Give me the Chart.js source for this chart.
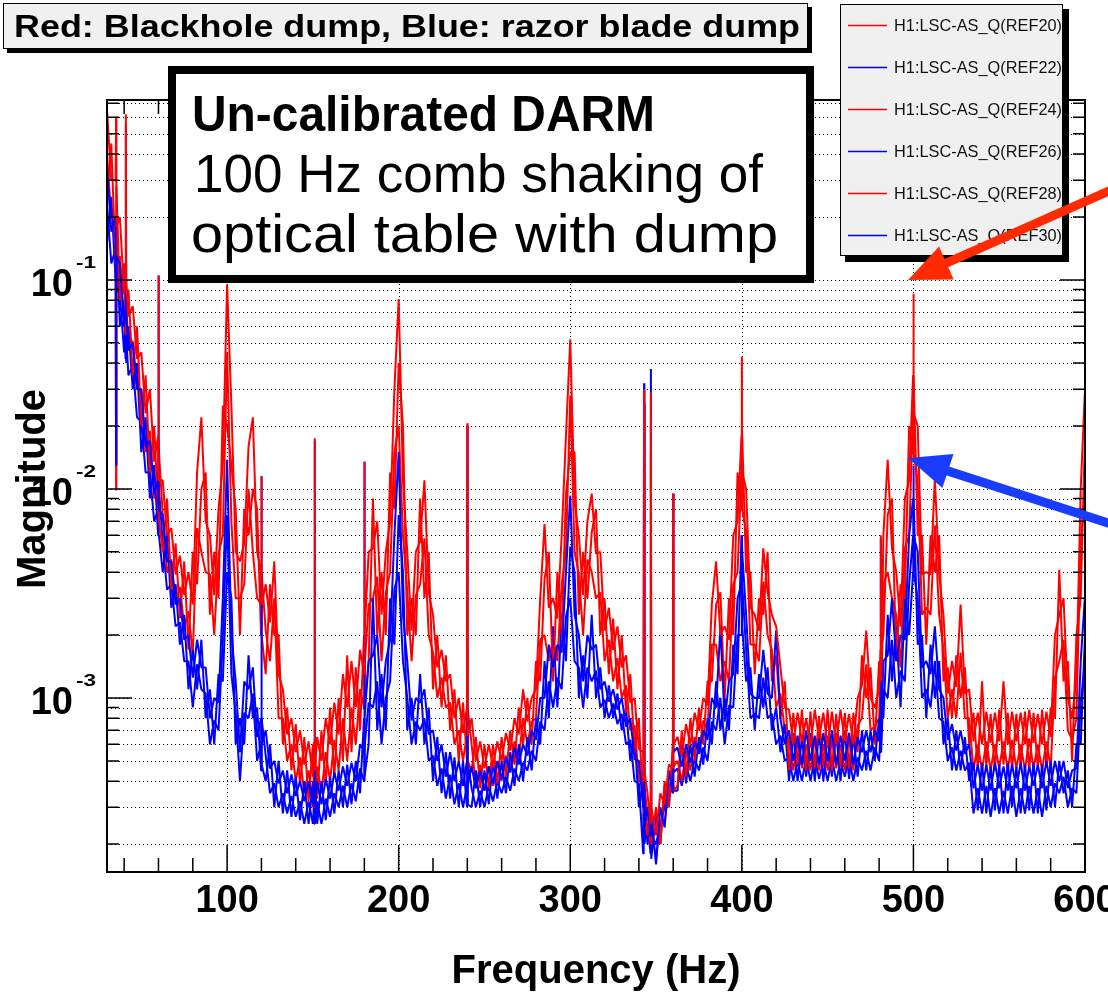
<!DOCTYPE html>
<html>
<head>
<meta charset="utf-8">
<title>Un-calibrated DARM</title>
<script src="https://cdn.jsdelivr.net/npm/chart.js@4.4.1/dist/chart.umd.min.js"></script>
<style>
  html, body { margin: 0; padding: 0; background: #fff; }
  canvas { display: block; }
</style>
</head>
<body>
<canvas id="myChart" width="1108" height="996"></canvas>
<script>
// magnitude values below are in units of 1e-5
const UNIT = 1e-5;

const freq = [
  30, 32.5, 35, 35.3, 35.5, 37.5, 40, 40.8, 41, 41.2, 42.5, 45, 47.5, 50, 52.5, 55, 57.5, 59.8, 60, 60.2,
  62.5, 65, 67.5, 70, 72.5, 75, 77.5, 80, 82.5, 85, 87.5, 90, 92.5, 95, 97.5, 100, 102.5, 105, 107.5, 110, 112.5, 115, 117.5,
  119.8, 120, 120.2, 122.5, 125, 127.5, 130, 132.5, 135, 137.5, 140, 142.5, 145, 147.5, 150,
  150.8, 151, 151.2, 152.5, 155, 157.5, 160, 162.5, 165, 167.5, 170, 172.5, 175, 177.5, 179.8, 180, 180.2,
  182.5, 185, 187.5, 190, 192.5, 195, 197.5, 200, 202.5, 205, 207.5, 210, 212.5, 215, 217.5, 220, 222.5, 225, 227.5, 230, 232.5, 235, 237.5,
  239.8, 240, 240.2, 242.5, 245, 247.5, 250, 252.5, 255, 257.5, 260, 262.5, 265, 267.5, 270, 272.5, 275, 277.5, 280,
  282.5, 285, 287.5, 290, 292.5, 295, 297.5, 300, 302.5, 305, 307.5, 310, 312.5, 315, 317.5, 320, 322.5, 325, 327.5, 330, 332.5, 335, 337.5, 340,
  342.5, 342.8, 343, 343.2, 345, 346.8, 347, 347.2, 350, 352.5, 355, 357.5, 359.8, 360, 360.2,
  362.5, 365, 367.5, 370, 372.5, 375, 377.5, 380, 382.5, 385, 387.5, 390, 392.5, 395, 397.5, 399.8, 400, 400.2,
  402.5, 405, 407.5, 410, 412.5, 415, 417.5, 420, 422.5, 425, 427.5, 430, 432.5, 435, 437.5, 440, 442.5, 445, 447.5, 450, 452.5, 455, 457.5, 460, 462.5,
  465, 467.5, 470, 472.5, 475, 477.5, 480, 480.8, 481, 481.2, 482.5, 485, 487.5, 490, 492.5, 495, 497.5, 499.8, 500, 500.2,
  502.5, 505, 507.5, 510, 512.5, 515, 517.5, 520, 522.5, 525, 527.5, 530, 532.5, 535, 537.5, 540, 542.5, 545, 547.5, 550,
  552.5, 555, 557.5, 560, 562.5, 565, 567.5, 570, 572.5, 575, 577.5, 580, 582.5, 585, 587.5, 590, 592.5, 595, 597.5, 600
];

// red traces (blackhole dump)
const ref20 = [
  65000, 30000, 30000, 60000, 18000, 20000, 8500, 11000, 62000, 10000, 6700, 7500, 4200, 4500, 2300, 3000, 1350, 1800, 10500, 1100,
  1100, 600, 650, 390, 480, 310, 400, 280, 1200, 2200, 700, 600, 310, 800, 1300, 9500, 2500, 500, 450, 550, 1600, 2200, 500,
  400, 1150, 280, 350, 230, 450, 130, 110, 67, 80, 55, 70, 48, 62, 42,
  62, 1750, 45, 65, 50, 80, 60, 95, 67, 130, 90, 150, 90, 170, 130, 1350, 200,
  500, 520, 700, 250, 500, 700, 3000, 8100, 1100, 500, 210, 500, 560, 1100, 320, 250, 140, 170, 120, 130, 80, 100, 68,
  90, 2060, 66, 80, 50, 62, 46, 60, 47, 62, 50, 68, 56, 80, 67, 110, 77, 100, 110,
  300, 680, 270, 300, 240, 600, 1800, 5200, 870, 600, 310, 700, 950, 490, 500, 210, 270, 170, 220, 140, 160, 95, 100, 57,
  55, 40, 3000, 45, 35, 25, 2900, 30, 22, 35, 31, 48, 46, 950, 60,
  65, 53, 75, 60, 85, 70, 100, 92, 280, 450, 200, 220, 190, 600, 700, 1800, 4300, 1200,
  1000, 270, 250, 210, 520, 320, 250, 220, 140, 90, 88, 60, 85, 62, 80, 58, 88, 64, 85, 58, 86, 60, 88, 62, 84,
  60, 100, 115, 210, 100, 90, 110, 170, 600, 120, 600, 1380, 520, 400, 220, 900, 1100, 3500, 8600, 2300,
  2000, 390, 400, 390, 1120, 390, 250, 105, 150, 113, 280, 105, 110, 62, 85, 60, 86, 61, 85, 62,
  120, 60, 86, 62, 85, 60, 88, 61, 84, 60, 86, 65, 200, 250, 300, 100, 80, 125, 1000, 3000
];
const ref24 = [
  25000, 45000, 12000, 990, 28000, 8000, 12000, 5500, 9000, 5500, 9000, 3500, 6000, 2000, 3500, 1200, 2000, 800, 1700, 750,
  500, 900, 330, 550, 240, 450, 170, 500, 350, 1000, 1200, 250, 500, 300, 2500, 2000, 1300, 800, 200, 800, 600, 1000, 800,
  200, 350, 200, 130, 350, 200, 200, 60, 90, 45, 75, 38, 65, 32, 60,
  30, 45, 62, 33, 70, 38, 90, 42, 100, 50, 160, 55, 140, 70, 200, 150, 90,
  150, 900, 200, 400, 200, 1200, 800, 4000, 2000, 200, 300, 200, 900, 300, 500, 110, 200, 90, 160, 70, 110, 50, 95,
  50, 85, 50, 45, 65, 37, 60, 37, 60, 39, 65, 42, 70, 48, 90, 60, 100, 60, 150,
  120, 370, 500, 120, 400, 200, 950, 1500, 1500, 250, 500, 300, 620, 800, 200, 300, 130, 240, 110, 200, 85, 130, 55, 80,
  30, 50, 2500, 28, 22, 32, 1500, 20, 30, 20, 40, 30, 60, 45, 36,
  38, 70, 42, 80, 50, 90, 60, 120, 120, 280, 320, 100, 300, 200, 1200, 800, 1700, 1800,
  400, 400, 130, 300, 250, 500, 120, 160, 80, 120, 45, 85, 48, 88, 45, 86, 46, 82, 47, 88, 45, 84, 47, 85, 46,
  85, 55, 160, 100, 140, 60, 150, 90, 130, 170, 200, 750, 900, 150, 350, 300, 2000, 1500, 3000, 3500,
  600, 600, 180, 600, 400, 600, 120, 140, 80, 160, 100, 140, 60, 85, 46, 120, 47, 84, 45, 88,
  48, 85, 45, 84, 47, 86, 45, 85, 46, 88, 47, 90, 80, 410, 120, 150, 50, 200, 300, 1800
];
const ref28 = [
  40000, 20000, 19000, 17000, 11000, 13000, 6000, 8000, 5500, 7500, 5000, 5100, 3000, 3000, 1500, 1900, 900, 1200, 850, 1600,
  750, 400, 460, 280, 340, 220, 260, 160, 650, 500, 400, 390, 200, 490, 600, 4500, 700, 300, 300, 350, 1000, 500, 300,
  280, 220, 400, 210, 150, 300, 80, 80, 50, 60, 40, 52, 35, 45, 30,
  44, 60, 31, 47, 35, 55, 40, 63, 45, 80, 50, 90, 60, 110, 90, 100, 140,
  280, 300, 380, 150, 320, 400, 1500, 2000, 600, 320, 150, 310, 350, 580, 200, 165, 100, 125, 90, 95, 60, 70, 50,
  67, 52, 90, 60, 38, 48, 36, 47, 38, 49, 40, 53, 45, 62, 50, 80, 60, 77, 80,
  190, 200, 150, 190, 150, 350, 500, 2800, 500, 390, 200, 460, 400, 300, 320, 150, 190, 120, 155, 100, 115, 70, 74, 40,
  40, 30, 35, 38, 28, 20, 25, 24, 17, 26, 25, 38, 35, 58, 47,
  50, 40, 56, 45, 65, 55, 78, 70, 180, 180, 120, 150, 120, 350, 400, 1200, 900, 800,
  630, 180, 180, 150, 360, 200, 170, 90, 105, 70, 62, 45, 62, 46, 60, 45, 64, 45, 60, 45, 63, 46, 60, 45, 64,
  45, 74, 80, 145, 70, 73, 80, 120, 95, 90, 350, 400, 300, 250, 140, 520, 600, 2300, 1800, 1500,
  1100, 250, 270, 250, 670, 250, 170, 80, 110, 80, 165, 80, 80, 45, 60, 45, 62, 45, 60, 46,
  62, 45, 63, 46, 60, 45, 64, 46, 60, 45, 62, 46, 125, 150, 190, 70, 63, 80, 550, 1000
];

// blue traces (razor blade dump)
const ref22 = [
  35000, 17000, 20000, 1300, 13000, 12000, 6000, 7500, 55000, 7000, 4600, 5000, 3000, 3000, 1600, 1700, 950, 1100, 10500, 800,
  750, 450, 450, 280, 300, 190, 200, 125, 190, 140, 140, 80, 100, 95, 300, 1380, 200, 120, 55, 120, 110, 140, 65,
  80, 1150, 60, 70, 46, 50, 39, 45, 35, 43, 34, 40, 32, 40, 31,
  40, 1700, 30, 40, 31, 41, 33, 44, 36, 47, 38, 49, 40, 60, 56, 1350, 80,
  150, 160, 200, 90, 150, 190, 600, 1500, 250, 150, 78, 100, 95, 110, 67, 70, 50, 60, 42, 55, 40, 50, 38,
  50, 2000, 38, 47, 37, 45, 36, 47, 39, 50, 41, 52, 44, 58, 48, 60, 53, 70, 63,
  100, 100, 180, 140, 180, 165, 400, 930, 250, 200, 120, 200, 170, 180, 110, 120, 96, 110, 88, 100, 73, 80, 51, 50,
  30, 38, 3200, 24, 30, 22, 3750, 27, 16, 30, 24, 45, 35, 950, 55,
  58, 47, 60, 49, 62, 54, 70, 63, 100, 90, 220, 77, 120, 130, 300, 350, 600, 500,
  250, 105, 100, 100, 170, 105, 100, 210, 80, 60, 70, 50, 66, 48, 70, 50, 66, 48, 68, 50, 70, 48, 66, 50, 68,
  48, 65, 55, 70, 55, 70, 62, 85, 580, 66, 150, 160, 300, 150, 200, 190, 600, 900, 1290, 600,
  500, 140, 150, 130, 220, 110, 100, 63, 75, 56, 70, 54, 60, 37, 48, 36, 48, 36, 49, 37,
  47, 36, 48, 37, 49, 36, 47, 38, 48, 37, 50, 38, 50, 40, 50, 37, 45, 46, 150, 310
];
const ref26 = [
  15000, 25000, 10000, 16000, 18000, 6000, 8000, 4200, 6800, 4000, 6000, 3000, 4000, 1500, 2200, 900, 1300, 600, 1000, 620,
  400, 600, 270, 350, 180, 250, 110, 170, 110, 190, 80, 110, 60, 130, 120, 400, 300, 60, 80, 60, 160, 80, 90,
  45, 75, 48, 40, 60, 30, 50, 28, 45, 27, 42, 26, 40, 25, 40,
  25, 38, 40, 25, 40, 26, 42, 28, 45, 30, 48, 31, 50, 35, 80, 60, 42,
  60, 300, 70, 130, 70, 300, 180, 750, 400, 70, 100, 60, 130, 60, 90, 40, 65, 35, 55, 33, 52, 30, 50,
  30, 48, 31, 30, 45, 30, 45, 31, 50, 33, 50, 35, 55, 38, 60, 40, 65, 45, 80,
  60, 150, 80, 220, 90, 250, 150, 530, 400, 100, 160, 100, 250, 100, 140, 80, 115, 80, 105, 70, 90, 50, 65, 30,
  40, 20, 2600, 35, 20, 28, 2000, 17, 28, 20, 38, 30, 55, 38, 36,
  36, 60, 39, 60, 42, 65, 48, 80, 60, 120, 70, 100, 70, 180, 130, 600, 300, 220,
  120, 140, 70, 130, 90, 140, 70, 90, 55, 75, 40, 68, 40, 65, 42, 68, 40, 70, 40, 66, 42, 68, 40, 70, 41,
  66, 42, 70, 45, 70, 50, 80, 55, 80, 85, 80, 250, 120, 220, 90, 300, 200, 400, 700, 900,
  180, 200, 80, 180, 100, 150, 60, 80, 45, 70, 45, 65, 40, 49, 29, 49, 28, 47, 29, 48,
  28, 49, 30, 47, 28, 48, 29, 49, 28, 48, 29, 50, 30, 50, 35, 45, 30, 60, 60, 200
];
const ref30 = [
  23000, 12000, 14000, 11000, 9000, 8500, 4500, 5600, 4300, 5300, 3500, 3900, 2200, 2100, 1200, 1200, 700, 800, 620, 1050,
  550, 330, 350, 220, 230, 150, 150, 90, 145, 110, 105, 60, 78, 70, 190, 750, 130, 85, 40, 85, 80, 105, 50,
  60, 48, 80, 53, 35, 39, 30, 35, 28, 34, 27, 32, 25, 32, 25,
  32, 26, 25, 32, 25, 33, 27, 35, 30, 38, 30, 39, 32, 46, 40, 45, 58,
  95, 90, 120, 60, 100, 120, 330, 400, 150, 100, 60, 77, 70, 80, 50, 53, 38, 46, 33, 43, 31, 39, 30,
  38, 31, 50, 37, 30, 36, 30, 38, 32, 40, 35, 42, 36, 46, 40, 49, 45, 56, 50,
  77, 70, 120, 90, 125, 110, 245, 300, 150, 140, 90, 140, 120, 135, 90, 98, 80, 94, 75, 84, 60, 63, 40, 39,
  18, 28, 25, 20, 25, 18, 20, 22, 20, 25, 30, 36, 44, 50, 44,
  46, 38, 48, 40, 51, 45, 58, 50, 77, 70, 100, 60, 92, 90, 200, 200, 220, 350,
  170, 80, 84, 80, 125, 80, 84, 60, 66, 50, 52, 40, 50, 40, 52, 40, 52, 41, 50, 40, 52, 40, 50, 42, 52,
  40, 52, 45, 56, 45, 58, 50, 68, 58, 55, 110, 100, 190, 100, 135, 120, 350, 600, 450, 400,
  300, 100, 110, 90, 150, 80, 77, 50, 58, 45, 56, 45, 49, 28, 37, 28, 38, 27, 37, 28,
  36, 28, 38, 27, 37, 28, 38, 28, 37, 27, 38, 30, 39, 35, 42, 30, 37, 35, 95, 150
];

const seriesNames = ['H1:LSC-AS_Q(REF20)', 'H1:LSC-AS_Q(REF22)', 'H1:LSC-AS_Q(REF24)',
                     'H1:LSC-AS_Q(REF26)', 'H1:LSC-AS_Q(REF28)', 'H1:LSC-AS_Q(REF30)'];
const seriesValues = [ref20, ref22, ref24, ref26, ref28, ref30];
const seriesColors = ['#ff0000', '#0000ff', '#ff0000', '#0000ff', '#ff0000', '#0000ff'];

const xTicks = [100, 200, 300, 400, 500, 600];
const yDecades = [1e-3, 1e-2, 1e-1];
const yExponents = ['-3', '-2', '-1'];

const X_MIN = 30, X_MAX = 600;
const Y_MIN = 1.47e-4, Y_MAX = 0.726;

const FONT = '"Liberation Sans", Arial, Helvetica, sans-serif';

function fitText(ctx, text, x, y, width, font) {
  ctx.font = font;
  const w = ctx.measureText(text).width;
  ctx.save();
  ctx.translate(x, y);
  ctx.scale(width / w, 1);
  ctx.textAlign = 'left';
  ctx.fillText(text, 0, 0);
  ctx.restore();
}

function arrow(ctx, tail, tip, color, shaft, headLen, headHalf) {
  const dx = tip[0] - tail[0], dy = tip[1] - tail[1];
  const len = Math.hypot(dx, dy);
  const ux = dx / len, uy = dy / len;
  const nx = -uy, ny = ux;
  const bx = tip[0] - ux * headLen, by = tip[1] - uy * headLen;
  ctx.save();
  ctx.fillStyle = color;
  ctx.beginPath();
  ctx.moveTo(tail[0] + nx * shaft / 2, tail[1] + ny * shaft / 2);
  ctx.lineTo(bx + ux * 2 + nx * shaft / 2, by + uy * 2 + ny * shaft / 2);
  ctx.lineTo(bx + ux * 2 - nx * shaft / 2, by + uy * 2 - ny * shaft / 2);
  ctx.lineTo(tail[0] - nx * shaft / 2, tail[1] - ny * shaft / 2);
  ctx.closePath();
  ctx.fill();
  ctx.beginPath();
  ctx.moveTo(tip[0], tip[1]);
  ctx.lineTo(bx + nx * headHalf, by + ny * headHalf);
  ctx.lineTo(bx - nx * headHalf, by - ny * headHalf);
  ctx.closePath();
  ctx.fill();
  ctx.restore();
}

const rootStyle = {
  id: 'rootStyle',
  beforeDraw(chart) {
    const ctx = chart.ctx;
    ctx.save();
    ctx.fillStyle = '#fff';
    ctx.fillRect(0, 0, chart.width, chart.height);
    ctx.restore();
  },
  beforeDatasetsDraw(chart) {
    const {ctx, chartArea: a, scales: {x, y}} = chart;
    ctx.save();
    ctx.strokeStyle = '#000';
    ctx.lineWidth = 1;
    ctx.setLineDash([1, 3]);
    ctx.beginPath();
    for (let e = -4; e <= -1; e++) {
      for (let k = 1; k <= 9; k++) {
        const v = k * Math.pow(10, e);
        if (v <= Y_MIN || v >= Y_MAX) continue;
        const py = Math.round(y.getPixelForValue(v)) + 0.5;
        ctx.moveTo(a.left, py);
        ctx.lineTo(a.right, py);
      }
    }
    xTicks.forEach(f => {
      if (f >= X_MAX) return;
      const px = Math.round(x.getPixelForValue(f)) + 0.5;
      ctx.moveTo(px, a.top);
      ctx.lineTo(px, a.bottom);
    });
    ctx.stroke();
    ctx.restore();
  },
  afterDatasetsDraw(chart) {
    const {ctx, chartArea: a, scales: {x, y}} = chart;
    ctx.save();

    // ticks, drawn inward like ROOT
    ctx.strokeStyle = '#000';
    ctx.lineWidth = 1.5;
    ctx.beginPath();
    for (let e = -4; e <= -1; e++) {
      for (let k = 1; k <= 9; k++) {
        const v = k * Math.pow(10, e);
        if (v <= Y_MIN || v >= Y_MAX) continue;
        const py = y.getPixelForValue(v);
        const len = k === 1 ? 25 : 12;
        ctx.moveTo(a.left, py); ctx.lineTo(a.left + len, py);
        ctx.moveTo(a.right, py); ctx.lineTo(a.right - len, py);
      }
    }
    for (let f = 40; f < X_MAX; f += 20) {
      const px = x.getPixelForValue(f);
      const len = f % 100 === 0 ? 27 : 14;
      ctx.moveTo(px, a.bottom); ctx.lineTo(px, a.bottom - len);
      ctx.moveTo(px, a.top); ctx.lineTo(px, a.top + len);
    }
    ctx.stroke();

    // frame
    ctx.lineWidth = 2;
    ctx.strokeRect(a.left, a.top, a.right - a.left, a.bottom - a.top);

    // tick labels
    ctx.fillStyle = '#000';
    ctx.textBaseline = 'alphabetic';
    ctx.font = 'bold 38px ' + FONT;
    ctx.textAlign = 'center';
    xTicks.forEach(f => {
      ctx.fillText(String(f), x.getPixelForValue(f), 912);
    });
    yDecades.forEach((d, i) => {
      const py = y.getPixelForValue(d);
      ctx.font = 'bold 38px ' + FONT;
      ctx.textAlign = 'right';
      ctx.fillText('10', 73, py + 16);
      fitText(ctx, yExponents[i], 76, py - 12, 20, 'bold 17px ' + FONT);
    });

    // axis titles
    ctx.font = 'bold 40px ' + FONT;
    ctx.textAlign = 'center';
    ctx.fillText('Frequency (Hz)', 596, 983);
    ctx.save();
    ctx.translate(45, 489);
    ctx.rotate(-Math.PI / 2);
    ctx.fillText('Magnitude', 0, 0);
    ctx.restore();

    // title pave
    ctx.fillStyle = '#000';
    ctx.fillRect(7, 7, 805, 46);
    ctx.fillStyle = '#f0f0f0';
    ctx.fillRect(3, 3, 805, 46);
    ctx.lineWidth = 1;
    ctx.strokeStyle = '#000';
    ctx.strokeRect(3.5, 3.5, 804, 45);
    ctx.fillStyle = '#000';
    fitText(ctx, 'Red: Blackhole dump, Blue: razor blade dump', 14, 37, 786, 'bold 31px ' + FONT);

    // annotation box
    ctx.fillStyle = '#fff';
    ctx.fillRect(168, 66, 646, 217);
    ctx.lineWidth = 8;
    ctx.strokeRect(172, 70, 638, 209);
    ctx.fillStyle = '#000';
    fitText(ctx, 'Un-calibrated DARM', 192, 131, 463, 'bold 50px ' + FONT);
    fitText(ctx, '100 Hz comb shaking of', 194, 192, 569, '54px ' + FONT);
    fitText(ctx, 'optical table with dump', 191, 252, 587, '54px ' + FONT);

    // legend
    ctx.fillStyle = '#000';
    ctx.fillRect(845, 9, 224, 253);
    ctx.fillStyle = '#f0f0f0';
    ctx.fillRect(840, 4, 223, 252);
    ctx.lineWidth = 1;
    ctx.strokeRect(840.5, 4.5, 222, 251);
    ctx.save();
    ctx.beginPath();
    ctx.rect(841, 5, 221, 250);
    ctx.clip();
    chart.data.datasets.forEach((ds, i) => {
      const ry = 25 + i * 42;
      ctx.strokeStyle = ds.borderColor;
      ctx.lineWidth = 1.5;
      ctx.beginPath();
      ctx.moveTo(848, ry + 0.5);
      ctx.lineTo(887, ry + 0.5);
      ctx.stroke();
      ctx.fillStyle = '#111';
      fitText(ctx, ds.label, 894, ry + 6, 168, '17px ' + FONT);
    });
    ctx.restore();

    // arrows
    arrow(ctx, [1120, 186], [908, 280], '#ff2a00', 9, 42, 18);
    arrow(ctx, [1120, 527], [908, 458], '#1a3cff', 9, 42, 18);

    ctx.restore();
  }
};

const ctx = document.getElementById('myChart').getContext('2d');
const myChart = new Chart(ctx, {
  type: 'line',
  data: {
    datasets: seriesNames.map((name, i) => ({
      label: name,
      data: freq.map((f, j) => ({x: f, y: seriesValues[i][j] * UNIT})),
      borderColor: seriesColors[i],
      borderWidth: 2,
      borderJoinStyle: 'bevel',
      pointRadius: 0,
      tension: 0,
      fill: false
    }))
  },
  options: {
    responsive: false,
    devicePixelRatio: 1,
    animation: false,
    events: [],
    layout: {
      padding: {left: 107, top: 100, right: 23, bottom: 124}
    },
    scales: {
      x: {type: 'linear', min: X_MIN, max: X_MAX, display: false},
      y: {type: 'logarithmic', min: Y_MIN, max: Y_MAX, display: false}
    },
    plugins: {
      legend: {display: false},
      tooltip: {enabled: false},
      title: {display: false}
    }
  },
  plugins: [rootStyle]
});
</script>
</body>
</html>
